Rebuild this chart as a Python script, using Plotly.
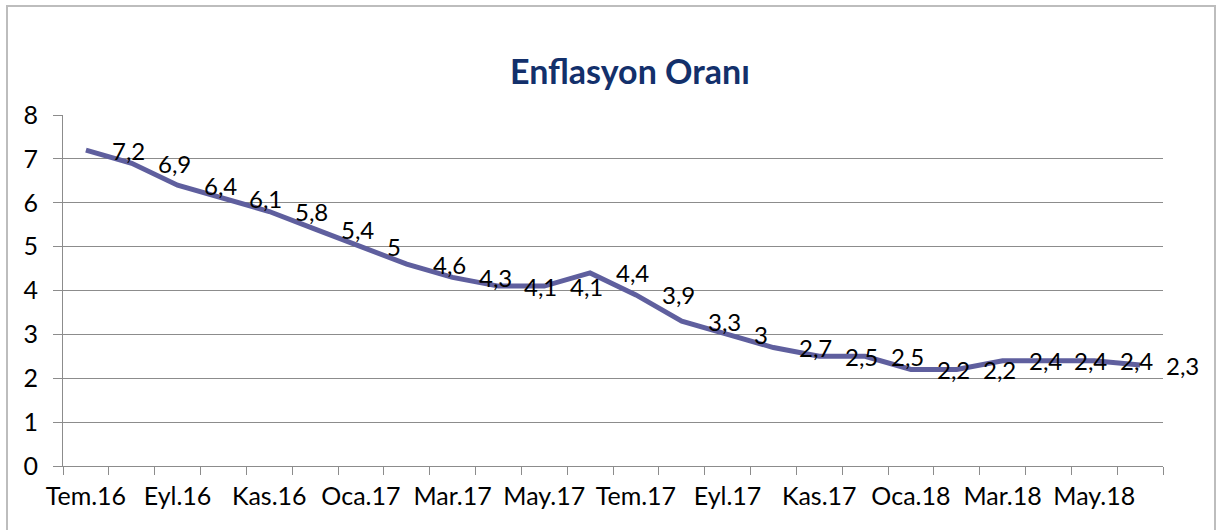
import plotly.graph_objects as go

months = ["Tem.16", "Ağu.16", "Eyl.16", "Eki.16", "Kas.16", "Ara.16",
          "Oca.17", "Şub.17", "Mar.17", "Nis.17", "May.17", "Haz.17",
          "Tem.17", "Ağu.17", "Eyl.17", "Eki.17", "Kas.17", "Ara.17",
          "Oca.18", "Şub.18", "Mar.18", "Nis.18", "May.18", "Haz.18"]
inflation = [7.2, 6.9, 6.4, 6.1, 5.8, 5.4, 5.0, 4.6, 4.3, 4.1, 4.1, 4.4,
             3.9, 3.3, 3.0, 2.7, 2.5, 2.5, 2.2, 2.2, 2.4, 2.4, 2.4, 2.3]
y_ticks = [0, 1, 2, 3, 4, 5, 6, 7, 8]

FONT = "Lato"
idx = list(range(len(months)))

fig = go.Figure()
fig.add_trace(go.Scatter(
    x=idx, y=inflation, mode="lines",
    line=dict(color="#5F5F9E", width=5),
    hoverinfo="skip", showlegend=False,
))

def fmt(v):
    return ("%g" % v).replace(".", ",")

L, R, T, B = 63, 1163, 115, 466
W, H = 1220, 530
pw, ph = R - L, B - T

annotations = []
for i, v in zip(idx, inflation):
    annotations.append(dict(
        x=i, y=v, xref="x", yref="y", text=fmt(v), showarrow=False,
        xanchor="left", yanchor="middle", xshift=24,
        font=dict(family=FONT, size=24, color="#000000"),
    ))
annotations.append(dict(
    x=0.515, y=(B - 70) / ph, xref="paper", yref="paper",
    text="<b>Enflasyon Oranı</b>", showarrow=False,
    xanchor="center", yanchor="middle",
    font=dict(family=FONT, size=34, color="#13306B"),
))

fig.update_layout(
    width=W, height=H,
    margin=dict(l=L, r=W - R, t=T, b=H - B, pad=0),
    paper_bgcolor="white", plot_bgcolor="white",
    annotations=annotations,
    shapes=[dict(
        type="rect", xref="paper", yref="paper",
        x0=(7 - L) / pw, x1=(1215 - L) / pw,
        y0=(B - 545) / ph, y1=(B - 6) / ph,
        line=dict(color="#BDBDBD", width=2), layer="below",
    )],
    xaxis=dict(
        range=[-0.5, len(months) - 0.5],
        tickmode="array", tickvals=idx[::2], ticktext=months[::2],
        ticks="", showgrid=False, zeroline=False,
        showline=True, linecolor="#8C8C8C", linewidth=1,
        tickfont=dict(family=FONT, size=25, color="#000000"),
        ticklabelstandoff=8,
        minor=dict(ticks="outside", tickmode="linear", tick0=-0.5, dtick=1,
                   ticklen=8, tickcolor="#8C8C8C", tickwidth=1, showgrid=False),
        fixedrange=True,
    ),
    yaxis=dict(
        range=[0, 8], tickmode="array", tickvals=y_ticks,
        ticks="outside", ticklen=9, tickcolor="#8C8C8C",
        showgrid=True, gridcolor="#8C8C8C", gridwidth=1,
        zeroline=False, showline=True, linecolor="#8C8C8C", linewidth=1,
        tickfont=dict(family=FONT, size=25, color="#000000"),
        ticklabelstandoff=10,
        fixedrange=True,
    ),
)

fig.write_html(
    "out.html",
    config={"displayModeBar": False},
    post_script="document.body.style.margin='0px';document.body.style.overflow='hidden';",
)
